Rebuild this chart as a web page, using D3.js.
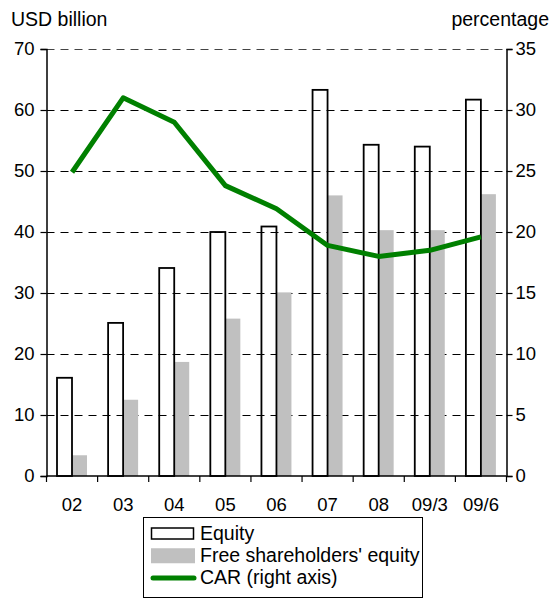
<!DOCTYPE html>
<html>
<head>
<meta charset="utf-8">
<script src="https://cdn.jsdelivr.net/npm/d3@7"></script>
<style>
  body { margin: 0; background: #fff; }
  svg text { font-family: "Liberation Sans", Arial, sans-serif; fill: #000; }
</style>
</head>
<body>
<svg id="chart" width="554" height="599"></svg>
<script>
// data
const categories = ["02", "03", "04", "05", "06", "07", "08", "09/3", "09/6"];
const equity = [16.1, 25.1, 34.1, 40, 40.9, 63.3, 54.3, 54.0, 61.7];
const freeEquity = [3.4, 12.5, 18.7, 25.8, 30.1, 46.0, 40.3, 40.3, 46.2];
const car = [24.9, 31.0, 29.0, 23.8, 21.9, 18.9, 18.0, 18.5, 19.6];
const leftTicks = [0, 10, 20, 30, 40, 50, 60, 70];
const rightTicks = [0, 5, 10, 15, 20, 25, 30, 35];

const svg = d3.select("#chart");

const plotLeft = 46.5, plotRight = 506.5, plotTop = 49, plotBottom = 476;

const x = d3.scaleBand().domain(categories).range([plotLeft, plotRight]);
const xInner = d3.scaleBand().domain(["eq", "free"]).range([10.5, 40.5]);
const yL = d3.scaleLinear().domain([0, 70]).range([plotBottom, plotTop]);
const yR = d3.scaleLinear().domain([0, 35]).range([plotBottom, plotTop]);

// grid lines
svg.append("g")
  .selectAll("line")
  .data(leftTicks.filter(d => d > 0))
  .enter()
  .append("line")
    .attr("x1", plotLeft).attr("x2", plotRight)
    .attr("y1", d => Math.round(yL(d)) + 0.5).attr("y2", d => Math.round(yL(d)) + 0.5)
    .attr("stroke", d => d == 70 ? "#444" : "#000")
    .attr("stroke-width", 1)
    .attr("stroke-dasharray", "8,6");

// bars
const groups = svg.append("g").selectAll("g")
  .data(categories)
  .enter()
  .append("g")
    .attr("transform", d => "translate(" + x(d) + ",0)");

groups.append("rect")
  .attr("x", xInner("free"))
  .attr("y", (d, i) => yL(freeEquity[i]))
  .attr("width", xInner.bandwidth())
  .attr("height", (d, i) => plotBottom - yL(freeEquity[i]))
  .attr("fill", "#c0c0c0");

groups.append("rect")
  .attr("x", xInner("eq"))
  .attr("y", (d, i) => yL(equity[i]))
  .attr("width", xInner.bandwidth())
  .attr("height", (d, i) => plotBottom - yL(equity[i]))
  .attr("fill", "none")
  .attr("stroke", "#000")
  .attr("stroke-width", 1.8);

// CAR line
const line = d3.line()
  .x((d, i) => x(categories[i]) + x.bandwidth() / 2)
  .y(d => yR(d));

svg.append("path")
  .datum(car)
  .attr("d", line)
  .attr("fill", "none")
  .attr("stroke", "#008000")
  .attr("stroke-width", 5)
  .attr("stroke-linejoin", "round");

// axes
const axisL = svg.append("g").attr("transform", "translate(" + plotLeft + ",0)")
  .call(d3.axisLeft(yL).tickValues(leftTicks).tickSize(6).tickPadding(6));
const axisR = svg.append("g").attr("transform", "translate(" + plotRight + ",0)")
  .call(d3.axisRight(yR).tickValues(rightTicks).tickSize(6).tickPadding(3));

// bottom axis: ticks at band boundaries, labels at centres
const xb = svg.append("g");
xb.append("line")
  .attr("x1", plotLeft).attr("x2", plotRight)
  .attr("y1", plotBottom).attr("y2", plotBottom)
  .attr("stroke", "#000").attr("stroke-width", 1.5);
xb.selectAll("line.tk")
  .data(categories.concat(["end"]))
  .enter()
  .append("line")
    .attr("class", "tk")
    .attr("x1", (d, i) => plotLeft + i * x.bandwidth())
    .attr("x2", (d, i) => plotLeft + i * x.bandwidth())
    .attr("y1", plotBottom).attr("y2", plotBottom + 6)
    .attr("stroke", "#000").attr("stroke-width", 1.2);
xb.selectAll("text")
  .data(categories)
  .enter()
  .append("text")
    .attr("x", d => x(d) + x.bandwidth() / 2)
    .attr("y", 511)
    .attr("text-anchor", "middle")
    .style("font-size", "18.5px")
    .text(d => d);

[axisL, axisR].forEach(a => {
  a.select(".domain").attr("stroke", "#000").attr("stroke-width", 1.5);
  a.selectAll(".tick line").attr("stroke", "#000").attr("stroke-width", 1.2);
  a.selectAll(".tick text")
    .style("font-size", "18.5px")
    .style("font-family", "'Liberation Sans', Arial, sans-serif")
    .attr("fill", "#000");
});

// axis titles
svg.append("text").attr("x", 11).attr("y", 26).style("font-size", "19.5px").text("USD billion");
svg.append("text").attr("x", 549).attr("y", 26).attr("text-anchor", "end").style("font-size", "19.5px").text("percentage");

// legend
const legend = svg.append("g");
legend.append("rect")
  .attr("x", 143.5).attr("y", 517.5)
  .attr("width", 279).attr("height", 80)
  .attr("fill", "#fff").attr("stroke", "#000").attr("stroke-width", 1);

const legendItems = ["Equity", "Free shareholders' equity", "CAR (right axis)"];
const ly = d3.scalePoint().domain(legendItems).range([533.5, 578]);

legend.append("rect")
  .attr("x", 151.5).attr("y", ly(legendItems[0]) - 5.5)
  .attr("width", 42).attr("height", 11)
  .attr("fill", "#fff").attr("stroke", "#000").attr("stroke-width", 1.5);
legend.append("rect")
  .attr("x", 151).attr("y", ly(legendItems[1]) - 7.5)
  .attr("width", 44).attr("height", 15)
  .attr("fill", "#c0c0c0");
legend.append("line")
  .attr("x1", 153).attr("x2", 194)
  .attr("y1", ly(legendItems[2])).attr("y2", ly(legendItems[2]))
  .attr("stroke", "#008000").attr("stroke-width", 5).attr("stroke-linecap", "round");

legend.selectAll("text")
  .data(legendItems)
  .enter()
  .append("text")
    .attr("x", 200)
    .attr("y", d => ly(d) + 6)
    .style("font-size", "19.5px")
    .text(d => d);
</script>
</body>
</html>
